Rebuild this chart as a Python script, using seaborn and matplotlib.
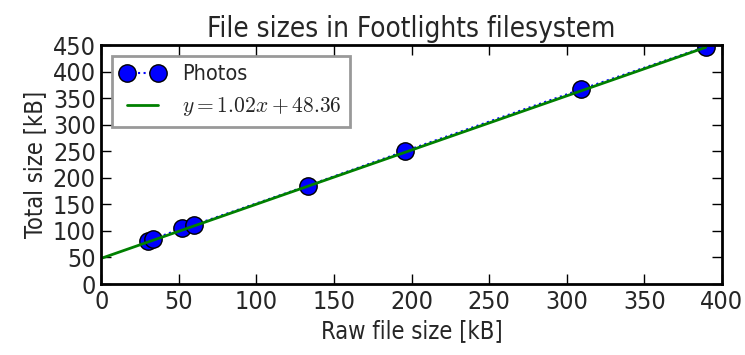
import matplotlib
matplotlib.use("Agg")
import matplotlib.pyplot as plt
import seaborn as sns
import pandas as pd

# Raw photo sizes and the total stored size in the filesystem (kB)
raw_kb = [30.3, 33.5, 52.0, 59.5, 132.9, 195.8, 309.2, 389.5]
total_kb = [81.0, 84.7, 104.9, 111.0, 185.0, 250.4, 366.6, 446.8]

# Linear fit coefficients
slope = 1.02
intercept = 48.36

x_ticks = [0, 50, 100, 150, 200, 250, 300, 350, 400]
y_ticks = [0, 50, 100, 150, 200, 250, 300, 350, 400, 450]

sns.set_style("white")
plt.rcParams["font.family"] = ["DejaVu Sans"]
plt.rcParams["font.stretch"] = "condensed"
plt.rcParams["mathtext.fontset"] = "cm"
plt.rcParams["xtick.direction"] = "in"
plt.rcParams["ytick.direction"] = "in"

photos = pd.DataFrame({"raw": raw_kb, "total": total_kb})
fit_x = [0.0, max(raw_kb)]
fit = pd.DataFrame({"raw": fit_x, "total": [slope * v + intercept for v in fit_x]})

fig, ax = plt.subplots(figsize=(7.45, 3.55), dpi=100)
fig.subplots_adjust(left=0.136, right=0.969, top=0.873, bottom=0.2)

sns.lineplot(data=photos, x="raw", y="total", ax=ax, sort=False,
             color="blue", linestyle=":", linewidth=1.5, marker="o",
             markersize=12.5, markeredgecolor="black", markeredgewidth=1,
             label="Photos")
sns.lineplot(data=fit, x="raw", y="total", ax=ax, color="green",
             linewidth=2, label=r"$y = %.2fx + %.2f$" % (slope, intercept))

ax.set_xlim(0, 400)
ax.set_ylim(0, 450)
ax.set_xticks(x_ticks)
ax.set_yticks(y_ticks)
ax.tick_params(axis="both", which="both", direction="in", length=7,
               width=1, color="black", labelsize=18, top=True, right=True,
               bottom=True, left=True, pad=4)
for s in ax.spines.values():
    s.set_visible(True)
    s.set_color("black")
    s.set_linewidth(2)

ax.set_xlabel("Raw file size [kB]", fontsize=17)
ax.set_ylabel("Total size [kB]", fontsize=17)
ax.set_title("File sizes in Footlights filesystem", fontsize=20)

leg = ax.legend(loc="upper left", numpoints=2, fontsize=15.5, frameon=True,
                fancybox=False, borderaxespad=0.5, handlelength=2.05,
                handletextpad=0.8)
leg.get_frame().set_edgecolor("gray")
leg.get_frame().set_linewidth(2)

fig.savefig("out.png", dpi=100)
